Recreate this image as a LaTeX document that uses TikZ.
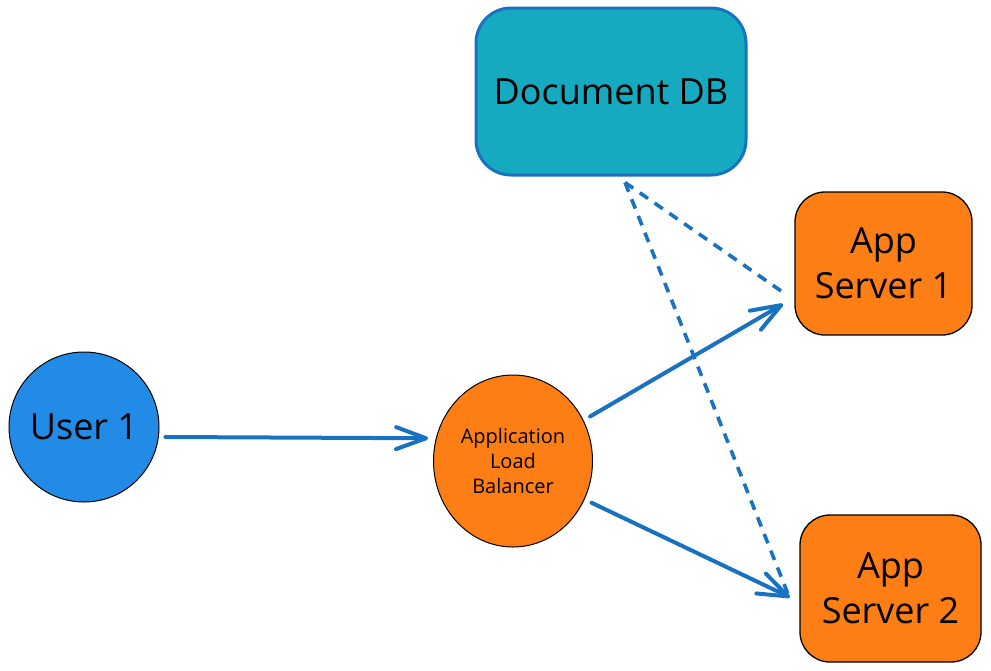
\documentclass[tikz,border=0pt]{standalone}
\usepackage{fontspec}
\setmainfont{Open Sans}
\usetikzlibrary{arrows.meta,shapes.geometric}
\definecolor{dbfill}{HTML}{15AABF}
\definecolor{dbline}{HTML}{1971C2}
\definecolor{srvfill}{HTML}{FD7E14}
\definecolor{userfill}{HTML}{228BE6}
\definecolor{flowblue}{HTML}{1971C2}
\begin{document}
\begin{tikzpicture}[x=1pt,y=-1pt,
    server/.style={draw=black,line width=1.3pt,fill=srvfill,rounded corners=30pt,minimum width=177pt,minimum height=143pt,align=center,font=\fontsize{36}{45}\selectfont},
    flow/.style={draw=flowblue,line width=4pt,line cap=round,-{Straight Barb[length=30pt,width=22pt,round]}},
    sync/.style={draw=flowblue,line width=3.6pt,dash pattern=on 10pt off 8pt}]
            \useasboundingbox (0,0) rectangle (991,670);
            \node[draw=dbline,line width=3pt,fill=dbfill,rounded corners=35pt,minimum width=270pt,minimum height=167pt,font=\fontsize{36}{45}\selectfont] (db) at (611,91.5) {Document DB};
            \node[server,outer sep=12pt] (srv1) at (883.5,263.5) {App\\Server 1};
            \node[server,outer sep=10pt,minimum width=181pt,minimum height=147pt] (srv2) at (890.5,588.5) {App\\Server 2};
            \node[circle,draw=black,line width=1pt,fill=userfill,minimum size=150pt,outer sep=7pt,font=\fontsize{36}{45}\selectfont] (user) at (84,427) {User 1};
            \node[ellipse,draw=black,line width=1pt,fill=srvfill,minimum width=159pt,minimum height=172pt,outer sep=8pt,align=center,font=\fontsize{20}{25}\selectfont] (alb) at (513,461) {Application\\Load\\Balancer};
            \draw[flow] (user.-7) -- (alb.165);
            \draw[flow] (alb.30) -- (srv1.202);
            \draw[flow] (alb.-28) -- (srv2.185);
            \draw[sync] ([shift={(14pt,-6pt)}]db.south) -- (srv1.196);
            \draw[sync] ([shift={(14pt,-6pt)}]db.south) -- (srv2.186);
        \end{tikzpicture}
\end{document}
